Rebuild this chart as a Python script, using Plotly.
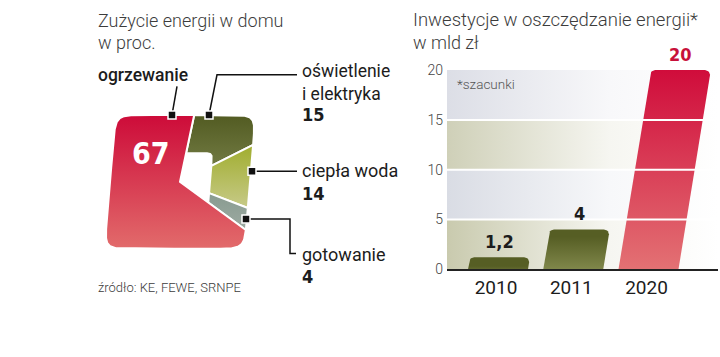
import numpy as np
import plotly.graph_objects as go

# ---------------- data ----------------
pie_labels = ["oświetlenie<br>i elektryka", "ciepła woda", "gotowanie", "ogrzewanie"]
pie_values = [15, 14, 4, 67]
pie_value_text = ["15", "14", "4", "67"]

bar_years = ["2010", "2011", "2020"]
bar_values = [1.2, 4, 20]
bar_value_text = ["1,2", "4", "20"]
y_ticks = [0, 5, 10, 15, 20]

# ---------------- styles ----------------
W, H = 720, 357
LIGHT = "Roboto"
COND = "DejaVu Sans Condensed"
TXT = "#1c1c1c"
GREY = "#3c3c3c"

pie_colors = [("#525b22", "#717a42"), ("#a0ad2e", "#c7ca88"),
              ("#889a90", "#9daba2"), ("#cd0b39", "#e26b6b")]

CX, CY = 180, 182
H_OUT, H_IN = 70, 30
SHEAR = 0.08
START = 7

fig = go.Figure()


def sq_r(theta, h, n):
    t = np.radians(theta)
    return h / (np.abs(np.sin(t)) ** n + np.abs(np.cos(t)) ** n) ** (1.0 / n)


def to_xy(theta, r):
    t = np.radians(theta)
    u = r * np.sin(t)
    v = -r * np.cos(t)
    return CX + u - SHEAR * v, CY + v


cum = START
for lab, val, (ctop, cbot) in zip(pie_labels, pie_values, pie_colors):
    a1, a2 = cum, cum + val * 3.6
    cum = a2
    ang = np.linspace(a1, a2, max(int((a2 - a1) * 3), 30))
    ox, oy = to_xy(ang, sq_r(ang, H_OUT, 12))
    if lab == "ogrzewanie":
        ix, iy = np.array([CX]), np.array([CY])
    else:
        ra = ang[::-1]
        ix, iy = to_xy(ra, sq_r(ra, H_IN, 14))
    xs = np.concatenate([ox, ix, ox[:1]])
    ys = np.concatenate([oy, iy, oy[:1]])
    fig.add_trace(go.Scatter(
        x=xs, y=ys, mode="lines", fill="toself",
        line=dict(color="white", width=2),
        fillgradient=dict(type="vertical", colorscale=[[0, cbot], [1, ctop]]),
        xaxis="x2", yaxis="y2", hoverinfo="skip", showlegend=False))

# ---------------- bar chart ----------------
PX_X = 75.25          # px per category unit
PX_Y = 10.43          # px per value unit
SLANT = 0.155         # dx/dy in px
HALF_W = 30           # px
RAD = 5               # px
X0, X1 = -51 / PX_X, -51 / PX_X + 271 / PX_X

band_cols = [("#c9caae", "#f6f6f1"), ("#d9dce4", "#f7f8fa"),
             ("#cfd0b8", "#f6f6f1"), ("#dcdee6", "#f8f8fa")]
for k in range(len(y_ticks) - 1):
    y0, y1 = y_ticks[k], y_ticks[k + 1]
    fig.add_trace(go.Scatter(
        x=[X0, X1, X1, X0, X0], y=[y0, y0, y1, y1, y0], mode="lines",
        fill="toself", line=dict(width=0),
        fillgradient=dict(type="horizontal",
                          colorscale=[[0, band_cols[k][0]], [0.6, band_cols[k][1]], [1, "#ffffff"]]),
        hoverinfo="skip", showlegend=False))

bar_cols = [("#848b4d", "#565e24"), ("#8c9356", "#565e24"), ("#e47676", "#d00c3b")]
for i, (v, (cb, ct)) in enumerate(zip(bar_values, bar_cols)):
    hpx = v * PX_Y
    r = min(RAD, hpx / 2)
    px, py = [-HALF_W], [0]
    cxl = -HALF_W + SLANT * (hpx - r) + r
    for a in np.linspace(180, 90, 8):
        px.append(cxl + r * np.cos(np.radians(a)))
        py.append(hpx - r + r * np.sin(np.radians(a)))
    cxr = HALF_W + SLANT * (hpx - r) - r
    for a in np.linspace(90, 0, 8):
        px.append(cxr + r * np.cos(np.radians(a)))
        py.append(hpx - r + r * np.sin(np.radians(a)))
    px += [HALF_W, -HALF_W]
    py += [0, 0]
    xs = i + np.array(px) / PX_X
    ys = np.array(py) / PX_Y
    fig.add_trace(go.Scatter(
        x=xs, y=ys, mode="lines", fill="toself", line=dict(width=0),
        fillgradient=dict(type="vertical", start=0, stop=v,
                          colorscale=[[0, cb], [1, ct]]),
        hoverinfo="skip", showlegend=False))
    fig.add_annotation(
        x=i + SLANT * hpx / PX_X, y=v, xref="x", yref="y", text=bar_value_text[i],
        showarrow=False, yanchor="bottom", yshift=3,
        font=dict(family=COND, size=18, weight="bold",
                  color="#c8103a" if i == 2 else TXT))

for t in y_ticks[1:-1]:
    fig.add_shape(type="line", xref="x", yref="y", x0=X0, x1=X1 - 2 / PX_X, y0=t, y1=t,
                  line=dict(color="white", width=2), layer="above")

# ---------------- texts ----------------
def txt(x, y, s, size=17, weight=400, color=TXT, family=LIGHT, anchor="left"):
    fig.add_annotation(x=x, y=y, xref="x2", yref="y2", text=s, showarrow=False,
                       xanchor=anchor, yanchor="middle", align="left",
                       font=dict(family=family, size=size, weight=weight, color=color))

txt(96, 13, "Zużycie energii w domu", 18, 300, GREY)
txt(96, 36, "w proc.", 18, 300, GREY)
txt(411, 13, "Inwestycje w oszczędzanie energii*", 18.5, 300, GREY)
txt(411, 36, "w mld zł", 18, 300, GREY)
txt(96, 293, "źródło: KE, FEWE, SRNPE", 13, 300, GREY)
txt(455, 80, "*szacunki", 13.5, 300, "#555555")

txt(96, 70, pie_labels[3], 17.5, 500)
txt(300, 78, pie_labels[0], 17.5, 400)
txt(300, 111, pie_value_text[0], 18, 700, family=COND)
txt(300, 170, pie_labels[1], 18, 400)
txt(300, 194, pie_value_text[1], 18, 700, family=COND)
txt(300, 258, pie_labels[2], 18, 400)
txt(300, 281, pie_value_text[2], 18, 700, family=COND)
txt(151, 152, pie_value_text[3], 30, 700, "white", COND, "center")

# leader lines
leaders = [
    ([177, 172], [82, 112]),
    ([297, 217, 209], [70, 70, 112]),
    ([297, 252], [171, 171]),
    ([246, 290, 290, 296], [221, 221, 257, 257]),
]
for lx, ly in leaders:
    fig.add_trace(go.Scatter(x=lx, y=ly, mode="lines", line=dict(color="#111", width=1.5),
                             xaxis="x2", yaxis="y2", hoverinfo="skip", showlegend=False))
sq_x = [172, 209, 252, 246]
sq_y = [112, 112, 171, 221]
fig.add_trace(go.Scatter(x=sq_x, y=sq_y, mode="markers",
                         marker=dict(symbol="square", size=8, color="#111",
                                     line=dict(color="white", width=1.5)),
                         xaxis="x2", yaxis="y2", hoverinfo="skip", showlegend=False))

fig.update_layout(
    width=W, height=H, margin=dict(l=0, r=0, t=0, b=0),
    paper_bgcolor="white", plot_bgcolor="rgba(0,0,0,0)",
    showlegend=False,
    xaxis=dict(domain=[447 / W, 718 / W], range=[X0, X1],
               tickvals=list(range(len(bar_years))), ticktext=bar_years,
               showgrid=False, zeroline=False, showline=True, linecolor="#222",
               linewidth=2, ticks="", ticklabelshift=-2,
               tickfont=dict(family=LIGHT, size=19, color=TXT), fixedrange=True,
               layer="above traces"),
    yaxis=dict(domain=[1 - 273.5 / H, 1 - 65 / H], range=[0, 20],
               tickvals=y_ticks, showgrid=False, zeroline=False, ticks="",
               ticklabelstandoff=3,
               tickfont=dict(family=LIGHT, size=14, color="#444", weight=300),
               fixedrange=True),
    xaxis2=dict(domain=[0, 1], range=[0, W], visible=False, fixedrange=True,
                anchor="y2"),
    yaxis2=dict(domain=[0, 1], range=[H, 0], visible=False, fixedrange=True,
                anchor="x2"),
)

fig.write_html("out.html", config={"displayModeBar": False},
               post_script="document.body.style.margin='0';")
